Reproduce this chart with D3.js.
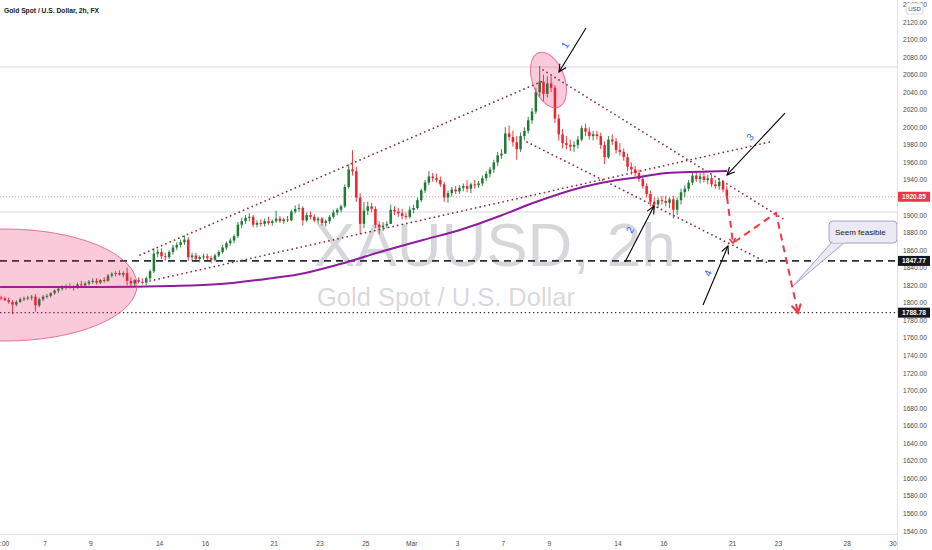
<!DOCTYPE html>
<html><head><meta charset="utf-8">
<script src="https://cdn.jsdelivr.net/npm/d3@7/dist/d3.min.js"></script>
<style>html,body{margin:0;padding:0;background:#fff;overflow:hidden}svg{display:block;font-family:"Liberation Sans",Arial,sans-serif}</style>
</head><body><svg id="c" width="932" height="550"></svg>
<script>
// ---------------- DATA ----------------
const chartTitle = "Gold Spot / U.S. Dollar, 2h, FX";
const symbolText = "XAUUSD, 2h";
const descText = "Gold Spot / U.S. Dollar";
const currency = "USD";

// time axis: trading-day index (0 = Feb 7, 2022)
const timeTicks = [-1.92, 0, 2, 5, 7, 10, 12, 14, 16, 18, 20, 22, 25, 27, 30, 32, 35, 37];
const timeLabels = ["12:00","7","9","14","16","21","23","25","Mar","3","7","9","14","16","21","23","28","30"];
const priceTicks = d3.range(1540, 2141, 20);

// sessions (trading-day index) and bars per session (4h bars)
const sessions = d3.range(-2, 30);
const barsPerSession = sessions.map(s => s === 29 ? 5 : 6);

const opens = [
1806,1805,1803,1801,1798,1801, 1804,1805,1806,1807,1797,1804, 1807,1808,1811,1814,1816,1818,
1819,1817,1818,1821,1820,1822, 1824,1825,1823,1826,1825,1831, 1833,1834,1832,1834,1825,1822,
1826,1824,1823,1828,1836,1856, 1858,1853,1852,1858,1863,1866, 1869,1872,1852,1854,1850,1852,
1853,1851,1849,1854,1858,1863, 1868,1871,1876,1889,1893,1897, 1898,1889,1891,1890,1893,1891,
1893,1896,1893,1895,1894,1904, 1907,1908,1894,1900,1898,1894, 1896,1891,1893,1898,1903,1906,
1910,1932,1952,1950,1920,1890, 1905,1910,1907,1889,1886,1888, 1890,1906,1904,1902,1899,1898,
1906,1908,1917,1928,1937,1944, 1942,1940,1935,1920,1925,1929, 1927,1931,1933,1930,1935,1934,
1936,1942,1947,1952,1960,1968, 1970,1993,1989,1983,1975,1990, 1996,2008,2018,2040,2052,2038,
2050,2045,2010,1992,1982,1980, 1978,1980,1986,1999,1995,1990, 1992,1990,1980,1966,1986,1984,
1974,1972,1966,1955,1952,1948, 1941,1933,1924,1915,1912,1917, 1916,1914,1918,1906,1917,1926,
1930,1937,1945,1941,1944,1940, 1942,1935,1933,1938,1929];
const highs = [
1808,1807,1806,1803,1803,1806, 1807,1808,1809,1810,1806,1809, 1810,1812,1815,1818,1820,1821,
1822,1820,1823,1825,1824,1826, 1828,1828,1827,1829,1833,1835, 1836,1837,1836,1840,1829,1827,
1829,1828,1830,1838,1862,1861, 1862,1857,1860,1866,1869,1872, 1877,1875,1857,1857,1854,1856,
1856,1854,1856,1860,1866,1870, 1874,1878,1892,1897,1900,1902, 1900,1894,1895,1896,1898,1895,
1905,1899,1897,1899,1906,1911, 1913,1910,1903,1904,1901,1898, 1898,1895,1900,1906,1908,1912,
1935,1958,1974,1955,1925,1915, 1915,1914,1910,1893,1892,1893, 1912,1910,1908,1907,1903,1910,
1912,1920,1930,1940,1950,1948, 1947,1944,1938,1928,1932,1933, 1934,1936,1940,1937,1940,1939,
1945,1950,1955,1963,1972,1975, 2000,2002,1996,1990,1994,2000, 2012,2022,2045,2070,2060,2058,
2058,2048,2015,1998,1990,1986, 1984,1990,2002,2004,2000,1996, 1996,1994,1984,1990,1992,1988,
1982,1976,1970,1960,1956,1952, 1945,1936,1928,1920,1920,1922, 1922,1920,1922,1920,1930,1934,
1940,1948,1950,1948,1949,1946, 1946,1940,1942,1940,1933];
const lows = [
1803,1802,1799,1787,1796,1800, 1802,1803,1803,1790,1795,1802, 1805,1806,1809,1811,1814,1815,
1816,1814,1816,1818,1818,1820, 1822,1821,1821,1823,1824,1829, 1830,1831,1829,1820,1818,1819,
1822,1821,1820,1826,1834,1852, 1850,1848,1850,1855,1860,1863, 1866,1848,1848,1847,1846,1849,
1848,1845,1847,1852,1856,1860, 1865,1868,1874,1885,1890,1893, 1886,1886,1887,1887,1889,1888,
1891,1891,1890,1892,1893,1902, 1904,1888,1892,1895,1892,1890, 1888,1887,1890,1896,1900,1903,
1908,1930,1945,1915,1878,1885, 1900,1903,1885,1878,1882,1885, 1890,1900,1898,1895,1895,1896,
1902,1906,1915,1925,1934,1938, 1937,1932,1915,1914,1921,1924, 1924,1927,1926,1925,1930,1931,
1933,1939,1943,1948,1956,1964, 1970,1985,1978,1963,1972,1985, 1993,2004,2015,2035,2030,2034,
2040,2005,1985,1976,1975,1973, 1972,1976,1984,1990,1986,1985, 1986,1975,1958,1964,1980,1970,
1968,1962,1950,1946,1944,1938, 1930,1920,1910,1906,1908,1912, 1910,1908,1896,1900,1912,1920,
1927,1934,1938,1936,1937,1935, 1932,1930,1929,1926,1918];
const closes = [
1805,1803,1801,1798,1801,1804, 1805,1806,1807,1797,1804,1807, 1808,1811,1814,1816,1818,1819,
1817,1818,1821,1820,1822,1824, 1825,1823,1826,1825,1831,1833, 1834,1832,1834,1825,1822,1826,
1824,1823,1828,1836,1856,1858, 1853,1852,1858,1863,1866,1869, 1872,1852,1854,1850,1852,1853,
1851,1849,1854,1858,1863,1868, 1871,1876,1889,1893,1897,1898, 1889,1891,1890,1893,1891,1893,
1896,1893,1895,1894,1904,1907, 1908,1894,1900,1898,1894,1896, 1891,1893,1898,1903,1906,1910,
1932,1952,1950,1920,1890,1905, 1910,1907,1889,1886,1888,1890, 1906,1904,1902,1899,1898,1906,
1908,1917,1928,1937,1944,1942, 1940,1935,1920,1925,1929,1927, 1931,1933,1930,1935,1934,1936,
1942,1947,1952,1960,1968,1970, 1993,1989,1983,1975,1990,1996, 2008,2018,2040,2052,2038,2050,
2045,2010,1992,1982,1980,1978, 1980,1986,1999,1995,1990,1992, 1990,1980,1966,1986,1984,1974,
1972,1966,1955,1952,1948,1941, 1933,1924,1915,1912,1917,1916, 1914,1918,1906,1917,1926,1930,
1937,1945,1941,1944,1940,1942, 1935,1933,1938,1929,1920.85];

// 200-period moving average (trading-day index, value)
const maT = [-1.96, 2.40, 5.45, 7.64, 9.25, 11.13, 12.87, 14.62, 16.49, 18.11, 19.85, 21.29, 23.47, 24.96, 25.96, 27.14, 28.58, 29.76];
const maV = [1818, 1818, 1819.1, 1821.4, 1826, 1832.8, 1844.2, 1857.9, 1871.6, 1883, 1899, 1913.7, 1932, 1940, 1943.4, 1948, 1949.3, 1950.2];

// horizontal levels
const lastPrice = 1920.85;
const supportLevel = 1847.77;
const lowLevel = 1788.78;
const grayLevels = [2068.7, 1903.5];

// trend lines (t1, v1, t2, v2)
const trendLines = [
  [4.145, 1854.5, 21.816, 2053.9],
  [4.581, 1824.9, 31.633, 1983.3],
  [21.729, 2065.3, 32.288, 1894.4],
  [21.031, 1983.3, 31.546, 1845.4]
];
// ellipses (t, v, half-width in days, half-height in price, rotation)
const ellipses = [
  [-1.745, 1820.3, 5.76, 63.8, 0],
  [21.969, 2053.9, 0.70, 33.0, -20]
];
// arrows (from t, v -> to t, v)
const arrows = [
  [23.605, 2113.2, 22.427, 2063.0],
  [25.307, 1846.5, 26.572, 1910.3],
  [32.288, 2016.3, 29.757, 1945.7],
  [28.710, 1797.5, 29.800, 1864.8]
];
const waveLabels = ["1","2","3","4"];
const waveLabelT = [22.689, 25.525, 30.761, 28.928];
const waveLabelV = [2093.8, 1883.0, 1989.0, 1834.0];
// projected path
const projT = [29.757, 30.019, 31.895, 32.855];
const projV = [1920.6, 1868.2, 1902.4, 1788.4];
// callout
const calloutText = "Seem feasible";
const calloutAt = [34.207, 1893.2];
const calloutTip = [32.637, 1819.2];

// ---------------- CHART ----------------
const svg = d3.select("#c");
const PR = 897, PB = 534;
const x = d3.scaleLinear().domain([0, 37]).range([45, 893]);
const y = d3.scaleLinear().domain([1540, 2120]).range([531, 22]);

svg.append("defs").append("clipPath").attr("id","plot")
  .append("rect").attr("x",0).attr("y",0).attr("width",PR).attr("height",PB);
svg.select("defs").append("clipPath").attr("id","axisR")
  .append("rect").attr("x",PR).attr("y",0).attr("width",40).attr("height",PB+1);

const plot = svg.append("g").attr("clip-path","url(#plot)");

// watermark
plot.append("text").attr("x",314).attr("y",266).attr("font-size",62)
  .attr("fill","#787b86").attr("fill-opacity",0.3).text(symbolText);
plot.append("text").attr("x",317).attr("y",306).attr("font-size",25.5)
  .attr("fill","#787b86").attr("fill-opacity",0.3).text(descText);

// gray levels
grayLevels.forEach(v => plot.append("line").attr("x1",0).attr("x2",PR)
  .attr("y1",y(v)).attr("y2",y(v)).attr("stroke","#d6d8de").attr("stroke-width",1));

// last price line
plot.append("line").attr("x1",0).attr("x2",PR).attr("y1",y(lastPrice)).attr("y2",y(lastPrice))
  .attr("stroke","#f23645").attr("stroke-opacity",0.55).attr("stroke-width",1).attr("stroke-dasharray","1,2");

// candles
const bars = [];
let bi = 0;
sessions.forEach((s, si) => {
  for (let k = 0; k < barsPerSession[si]; k++) {
    bars.push({t: s + (k + 0.5) / 6, o: opens[bi], h: highs[bi], l: lows[bi], c: closes[bi]});
    bi++;
  }
});
const up = "#1e7b34", dn = "#f2222b";
const cg = plot.append("g");
cg.selectAll("line").data(bars).join("line")
  .attr("x1", d => x(d.t)).attr("x2", d => x(d.t))
  .attr("y1", d => y(d.h)).attr("y2", d => y(d.l))
  .attr("stroke", d => d.c >= d.o ? up : dn).attr("stroke-width", 0.9);
cg.selectAll("rect").data(bars).join("rect")
  .attr("x", d => x(d.t) - 1.25).attr("width", 2.5)
  .attr("y", d => y(Math.max(d.o, d.c)))
  .attr("height", d => Math.max(1, Math.abs(y(d.o) - y(d.c))))
  .attr("fill", d => d.c >= d.o ? up : dn);

// horizontal levels
plot.append("line").attr("x1",0).attr("x2",PR).attr("y1",y(supportLevel)).attr("y2",y(supportLevel))
  .attr("stroke","#2a2e39").attr("stroke-width",1.6).attr("stroke-dasharray","7,5");
plot.append("line").attr("x1",0).attr("x2",PR).attr("y1",y(lowLevel)).attr("y2",y(lowLevel))
  .attr("stroke","#2a2e39").attr("stroke-width",1.3).attr("stroke-dasharray","1.3,2.8");

// MA
plot.append("path").datum(maT.map((t,i)=>[t,maV[i]]))
  .attr("d", d3.line().x(d=>x(d[0])).y(d=>y(d[1])).curve(d3.curveMonotoneX))
  .attr("fill","none").attr("stroke","#8e1c9c").attr("stroke-width",2);

// ellipses
const pxPerDay = x(1) - x(0), pxPerUnit = y(0) - y(1);
ellipses.forEach(e => {
  const cx = x(e[0]), cy = y(e[1]);
  plot.append("ellipse").attr("cx",cx).attr("cy",cy)
    .attr("rx", e[2]*pxPerDay).attr("ry", e[3]*pxPerUnit)
    .attr("transform",`rotate(${e[4]},${cx},${cy})`)
    .attr("fill","#e91e63").attr("fill-opacity",0.24)
    .attr("stroke","#e0587f").attr("stroke-opacity",0.8).attr("stroke-width",1);
});

// trend lines
trendLines.forEach(l => plot.append("line")
  .attr("x1",x(l[0])).attr("y1",y(l[1])).attr("x2",x(l[2])).attr("y2",y(l[3]))
  .attr("stroke","#8a2c44").attr("stroke-width",1.7).attr("stroke-linecap","round")
  .attr("stroke-dasharray","0.1,4.6"));

function head(g, x1, y1, x2, y2, len, spread, color, w) {
  const a = Math.atan2(y2 - y1, x2 - x1);
  const p1 = [x2 - len*Math.cos(a - spread), y2 - len*Math.sin(a - spread)];
  const p2 = [x2 - len*Math.cos(a + spread), y2 - len*Math.sin(a + spread)];
  g.append("path").attr("d", `M${p1[0]},${p1[1]}L${x2},${y2}L${p2[0]},${p2[1]}`)
    .attr("fill","none").attr("stroke",color).attr("stroke-width",w).attr("stroke-linecap","round");
}

// arrows
arrows.forEach(a => {
  const x1=x(a[0]), y1=y(a[1]), x2=x(a[2]), y2=y(a[3]);
  plot.append("line").attr("x1",x1).attr("y1",y1).attr("x2",x2).attr("y2",y2)
    .attr("stroke","#000").attr("stroke-width",1.1);
  head(plot, x1, y1, x2, y2, 8, 0.45, "#000", 1.1);
});

// wave labels
const rot = [-58, -62, -47, -67];
waveLabels.forEach((s,i) => {
  const lx = x(waveLabelT[i]), ly = y(waveLabelV[i]);
  plot.append("text").attr("x",lx).attr("y",ly).attr("font-size",10)
    .attr("fill","#2962ff").attr("text-anchor","middle").attr("dominant-baseline","central")
    .attr("transform",`rotate(${rot[i]},${lx},${ly})`).text(s);
});

// projected path
const pp = projT.map((t,i)=>[x(t), y(projV[i])]);
plot.append("path").attr("d", d3.line()(pp)).attr("fill","none")
  .attr("stroke","#f23645").attr("stroke-width",2).attr("stroke-dasharray","7,5");
head(plot, pp[0][0], pp[0][1], pp[1][0], pp[1][1], 5, 0.6, "#f23645", 1.6);
head(plot, pp[2][0], pp[2][1], pp[3][0], pp[3][1], 9, 0.5, "#f23645", 2);

// callout
const bx = x(calloutAt[0]), by = y(calloutAt[1]), tx = x(calloutTip[0]), ty = y(calloutTip[1]);
const bw = 68, bh = 22;
const cgp = plot.append("g");
cgp.append("path").attr("d", `M${bx+3},${by+bh-1}L${tx},${ty}L${bx+16},${by+bh-1}`)
  .attr("fill","#ebe9f3").attr("stroke","#a99fc6").attr("stroke-width",1);
cgp.append("rect").attr("x",bx).attr("y",by).attr("width",bw).attr("height",bh).attr("rx",4)
  .attr("fill","#ebe9f3").attr("stroke","#a99fc6").attr("stroke-width",1);
cgp.append("path").attr("d", `M${bx+3.5},${by+bh-1}L${bx+15.5},${by+bh-1}`)
  .attr("stroke","#ebe9f3").attr("stroke-width",1.5);
cgp.append("text").attr("x",bx+6).attr("y",by+bh/2+3).attr("font-size",8)
  .attr("fill","#131722").text(calloutText);

// title
svg.append("text").attr("x",4).attr("y",12.5).attr("font-size",7).attr("font-weight","bold")
  .attr("fill","#131722").attr("textLength",95).attr("lengthAdjust","spacingAndGlyphs").text(chartTitle);

// frame
svg.append("line").attr("x1",0).attr("x2",PR).attr("y1",PB+0.5).attr("y2",PB+0.5).attr("stroke","#e0e3eb");
svg.append("line").attr("x1",PR+0.5).attr("x2",PR+0.5).attr("y1",0).attr("y2",550).attr("stroke","#e0e3eb");

// price axis
const ax = svg.append("g").attr("clip-path","url(#axisR)");
ax.selectAll("text").data(priceTicks).join("text")
  .attr("x",903).attr("y",d=>y(d)).attr("dominant-baseline","central")
  .attr("font-size",6.6).attr("fill","#4a4a4a").text(d=>d3.format(".2f")(d));
ax.append("rect").attr("x",906).attr("y",3).attr("width",17).attr("height",11).attr("rx",2)
  .attr("fill","#fff").attr("stroke","#c9ccd4").attr("stroke-width",0.8);
ax.append("text").attr("x",914.5).attr("y",8.8).attr("text-anchor","middle").attr("dominant-baseline","central")
  .attr("font-size",6).attr("fill","#4a4a4a").text(currency);

function tag(v, fill) {
  const yy = y(v);
  ax.append("rect").attr("x",PR+1).attr("y",yy-5).attr("width",32).attr("height",10).attr("fill",fill);
  ax.append("text").attr("x",PR+17).attr("y",yy).attr("text-anchor","middle").attr("dominant-baseline","central")
    .attr("font-size",6.6).attr("font-weight","bold").attr("fill","#fff").text(d3.format(".2f")(v));
}
tag(lastPrice, "#f23645");
tag(supportLevel, "#131722");
tag(lowLevel, "#131722");

// time axis
const tg = svg.append("g").attr("clip-path","url(#plot2)");
svg.select("defs").append("clipPath").attr("id","plot2")
  .append("rect").attr("x",0).attr("y",PB).attr("width",PR).attr("height",20);
tg.selectAll("text").data(timeTicks).join("text")
  .attr("x",d=>x(d)).attr("y",543).attr("text-anchor","middle").attr("dominant-baseline","central")
  .attr("font-size",6.6).attr("fill","#4a4a4a").text((d,i)=>timeLabels[i]);
</script></body></html>
